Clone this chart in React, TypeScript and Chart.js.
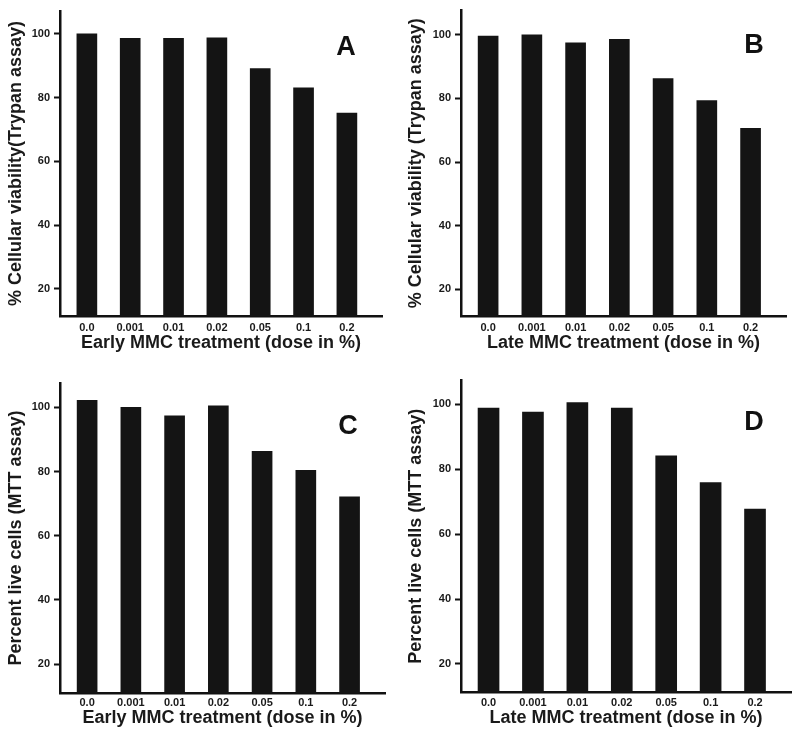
import React, { useEffect, useRef } from "react";
import { Chart, registerables } from "chart.js";

Chart.register(...registerables);

// ---- data ----
const doses = ["0.0", "0.001", "0.01", "0.02", "0.05", "0.1", "0.2"];
const earlyTrypan = [100, 98.6, 98.6, 98.8, 89.1, 83.1, 75.2];
const lateTrypan = [99.6, 100, 97.5, 98.6, 86.2, 79.3, 70.6];
const earlyMTT = [102.2, 100, 97.4, 100.5, 86.3, 80.4, 72.1];
const lateMTT = [98.8, 97.6, 100.5, 98.8, 84.1, 75.9, 67.7];

const xTitleEarly = "Early MMC treatment (dose in %)";
const xTitleLate = "Late MMC treatment (dose in %)";
const yTitleTrypanA = "% Cellular viability(Trypan assay)";
const yTitleTrypanB = "% Cellular viability (Trypan assay)";
const yTitleMTT = "Percent live cells (MTT assay)";
const letters = ["A", "B", "C", "D"];

// ---- layout (pixels) ----
type Panel = {
  px: number; py: number; w: number; h: number;
  left: number; top: number; bottom: number; right: number;
  yMin: number; yMax: number;
  letterX: number; letterY: number;
  barW: number; tickPad: number; titlePad: number;
  values: number[]; xTitle: string; yTitle: string; letter: string;
};

const panels: Panel[] = [
  { px: 0, py: 0, w: 400, h: 370, left: 60, top: 11, bottom: 316, right: 382, yMin: 11.5, yMax: 107.2,
    letterX: 346, letterY: 48, barW: 20, tickPad: 5, titlePad: 16,
    values: earlyTrypan, xTitle: xTitleEarly, yTitle: yTitleTrypanA, letter: letters[0] },
  { px: 400, py: 0, w: 400, h: 370, left: 61, top: 8, bottom: 316, right: 386, yMin: 11.6, yMax: 107.6,
    letterX: 354, letterY: 46, barW: 20, tickPad: 5, titlePad: 16,
    values: lateTrypan, xTitle: xTitleLate, yTitle: yTitleTrypanB, letter: letters[1] },
  { px: 0, py: 370, w: 400, h: 367, left: 60, top: 13, bottom: 323, right: 385, yMin: 11.0, yMax: 107.6,
    letterX: 348, letterY: 57, barW: 20, tickPad: 3, titlePad: 8,
    values: earlyMTT, xTitle: xTitleEarly, yTitle: yTitleMTT, letter: letters[2] },
  { px: 400, py: 370, w: 400, h: 367, left: 61, top: 8, bottom: 322, right: 391, yMin: 11.35, yMax: 107.3,
    letterX: 354, letterY: 53, barW: 21, tickPad: 4, titlePad: 8,
    values: lateMTT, xTitle: xTitleLate, yTitle: yTitleMTT, letter: letters[3] },
];

const FONT = "'Liberation Sans', Arial, Helvetica, sans-serif";
const INK = "#1a1a1a";

const letterPlugin = {
  id: "panelLetter",
  afterDraw(chart: any) {
    const o = chart.options.plugins.panelLetter;
    if (!o) return;
    const ctx = chart.ctx;
    ctx.save();
    ctx.font = `bold 27px ${FONT}`;
    ctx.fillStyle = "#111";
    ctx.textAlign = "center";
    ctx.textBaseline = "middle";
    ctx.fillText(o.text, o.x, o.y);
    ctx.restore();
  },
};

function PanelChart({ p }: { p: Panel }) {
  const ref = useRef<HTMLCanvasElement>(null);
  useEffect(() => {
    if (!ref.current) return;
    const chart = new Chart(ref.current, {
      type: "bar",
      data: {
        datasets: [
          {
            data: p.values.map((v, i) => ({ x: i, y: v })),
            backgroundColor: "#141414",
            borderWidth: 0,
            barThickness: p.barW,
          },
        ],
      },
      plugins: [letterPlugin],
      options: {
        responsive: false,
        animation: false,
        layout: { padding: { left: 0, top: p.top, right: p.w - p.right, bottom: 0 } },
        plugins: {
          legend: { display: false },
          tooltip: { enabled: false },
          panelLetter: { text: p.letter, x: p.letterX, y: p.letterY },
        } as any,
        scales: {
          x: {
            type: "linear",
            min: -0.62,
            max: 6.81,
            offset: false,
            grid: { display: false, drawTicks: false },
            border: { display: true, width: 2.5, color: "#111" },
            ticks: {
              stepSize: 1,
              includeBounds: false,
              autoSkip: false,
              maxRotation: 0,
              padding: p.tickPad,
              color: INK,
              font: { family: FONT, size: 11, weight: "bold" },
              callback: (v: any) => (Number.isInteger(v) && doses[v] !== undefined ? doses[v] : ""),
            },
            title: {
              display: true,
              text: p.xTitle,
              color: INK,
              font: { family: FONT, size: 18, weight: "bold" },
              padding: { top: 0, bottom: p.titlePad },
            },
            afterFit: (s: any) => { s.height = p.h - p.bottom; },
          },
          y: {
            type: "linear",
            min: p.yMin,
            max: p.yMax,
            grid: { display: true, drawOnChartArea: false, drawTicks: true, tickLength: 6, tickWidth: 2, tickColor: "#111" },
            border: { display: true, width: 2.5, color: "#111" },
            ticks: {
              stepSize: 20,
              includeBounds: false,
              padding: 4,
              color: INK,
              font: { family: FONT, size: 11, weight: "bold" },
            },
            title: {
              display: true,
              text: p.yTitle,
              color: INK,
              font: { family: FONT, size: 18, weight: "bold" },
              padding: { top: 5, bottom: 0 },
            },
            afterFit: (s: any) => { s.width = p.left; },
          },
        },
      } as any,
    });
    return () => chart.destroy();
  }, [p]);
  return (
    <div style={{ position: "absolute", left: p.px, top: p.py, width: p.w, height: p.h }}>
      <canvas ref={ref} width={p.w} height={p.h} style={{ display: "block", width: p.w, height: p.h }} />
    </div>
  );
}

export default function App() {
  return (
    <div style={{ position: "absolute", left: 0, top: 0, width: 800, height: 737, background: "#fff" }}>
      {panels.map((p) => (
        <PanelChart key={p.letter} p={p} />
      ))}
    </div>
  );
}
